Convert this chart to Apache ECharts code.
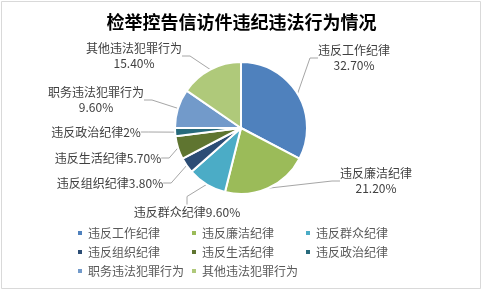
<!DOCTYPE html>
<html><head><meta charset="utf-8">
<style>html,body{margin:0;padding:0;background:#fff;}#c{width:483px;height:291px;}</style>
<script src="https://cdn.jsdelivr.net/npm/echarts@6/dist/echarts.min.js"></script>
</head><body><div id="c"></div>
<script>
const title = '检举控告信访件违纪违法行为情况';
const categories = ['违反工作纪律','违反廉洁纪律','违反群众纪律','违反组织纪律','违反生活纪律','违反政治纪律','职务违法犯罪行为','其他违法犯罪行为'];
const values = [32.7, 21.2, 9.6, 3.8, 5.7, 2, 9.6, 15.4];
const valueLabels = ['32.70%','21.20%','9.60%','3.80%','5.70%','2%','9.60%','15.40%'];
const twoLine = [true, true, false, false, false, false, true, true];
const colors = ['#4F81BD','#9BBB59','#4BACC6','#2C4D75','#5F7530','#276A7C','#729ACA','#AFC97A'];
const font = '"Noto Sans CJK SC","Microsoft YaHei",sans-serif';
// label block centres (text placement only)
const labelPos = [[354,58],[376,181],[187,212],[110,183],[108,158],[96,132],[96,100],[134,56]];

const chart = echarts.init(document.getElementById('c'));
chart.setOption({
  backgroundColor: '#fff',
  animation: false,
  graphic: [{type:'rect', shape:{x:1.5,y:1.5,width:479,height:287}, style:{fill:'none', stroke:'#d9d9d9', lineWidth:1}}],
  title: {text: title, left: 'center', top: 8, textStyle:{fontFamily: font, fontSize: 18, fontWeight:'bold', color:'#000'}},
  color: colors,
  legend: {
    left: 76, top: 226, width: 345, padding: 0,
    itemWidth: 6, itemHeight: 6, itemGap: 5, icon: 'rect',
    textStyle: {fontFamily: font, fontSize: 12, color:'#595959', width: 97, lineHeight: 14, padding:[0,0,0,0]},
    data: categories
  },
  series: [{
    type: 'pie', center: [241, 128], radius: 66, startAngle: 90, clockwise: true,
    itemStyle: {borderColor:'#fff', borderWidth: 2},
    label: {
      fontFamily: font, fontSize: 12, color:'#404040', lineHeight: 15, align: 'center',
      formatter: p => categories[p.dataIndex] + (twoLine[p.dataIndex] ? '\n' : '') + valueLabels[p.dataIndex]
    },
    labelLine: {show: true, length: 10, length2: 8, lineStyle:{color:'#a6a6a6', width:1}},
    labelLayout: p => ({x: labelPos[p.dataIndex][0], y: labelPos[p.dataIndex][1], align:'center', verticalAlign:'middle'}),
    data: categories.map((c,i)=>({name:c, value: values[i]}))
  }]
});
</script></body></html>
